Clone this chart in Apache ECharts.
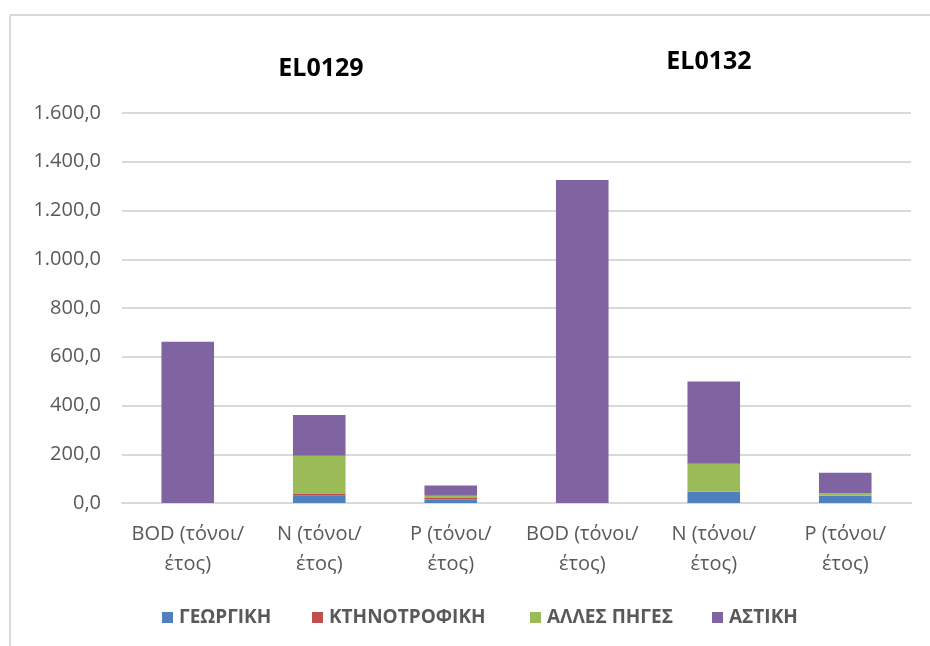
<!DOCTYPE html>
<html>
<head>
<meta charset="utf-8">
<script src="https://cdn.jsdelivr.net/npm/echarts@6/dist/echarts.min.js"></script>
<style>
html,body{margin:0;padding:0;background:#fff;}
#c{width:930px;height:646px;}
</style>
</head>
<body>
<div id="c"></div>
<script>
const categories = ["BOD (τόνοι/\nέτος)", "N (τόνοι/\nέτος)", "P (τόνοι/\nέτος)", "BOD (τόνοι/\nέτος)", "N (τόνοι/\nέτος)", "P (τόνοι/\nέτος)"];
const seriesNames = ["ΓΕΩΡΓΙΚΗ", "ΚΤΗΝΟΤΡΟΦΙΚΗ", "ΑΛΛΕΣ ΠΗΓΕΣ", "ΑΣΤΙΚΗ"];
const georgiki = [0, 30, 14, 0, 45, 30];
const ktinotrofiki = [0, 7, 7, 0, 1, 1];
const alles = [0, 157, 9, 0, 115, 9];
const astiki = [662, 167, 42, 1325, 337, 84];
const groupTitles = ["EL0129", "EL0132"];
const colors = ["#4f81bd", "#c0504d", "#9bbb59", "#8064a2"];

const FONT = "'Open Sans', sans-serif";
const legendLefts = [157, 307, 525, 707];

function fmt(v) {
  const s = Math.round(v).toString().replace(/\B(?=(\d{3})+(?!\d))/g, ".");
  return s + ",0";
}

const chart = echarts.init(document.getElementById('c'), null, {renderer: 'canvas'});
const dataSets = [georgiki, ktinotrofiki, alles, astiki];

chart.setOption({
  animation: false,
  backgroundColor: '#fff',
  color: colors,
  title: [
    {text: groupTitles[0], left: 316, top: 51, textAlign: 'center',
     textStyle: {fontFamily: FONT, fontSize: 25, fontWeight: 'bold', color: '#000'}},
    {text: groupTitles[1], left: 704, top: 44, textAlign: 'center',
     textStyle: {fontFamily: FONT, fontSize: 25, fontWeight: 'bold', color: '#000'}}
  ],
  grid: {left: 122, right: 19, top: 113, bottom: 143, containLabel: false},
  legend: seriesNames.map((n, i) => ({
    left: legendLefts[i], top: 603,
    itemWidth: 11, itemHeight: 11,
    icon: 'rect',
    data: [n],
    textStyle: {fontFamily: FONT, fontSize: 19, fontWeight: 'bold', color: '#595959', padding: [0, 0, 0, 1]}
  })),
  xAxis: {
    type: 'category',
    data: categories,
    axisLine: {lineStyle: {color: '#d9d9d9', width: 2}},
    axisTick: {show: false},
    axisLabel: {fontFamily: FONT, fontSize: 20, color: '#595959', margin: 16, lineHeight: 30, interval: 0}
  },
  yAxis: {
    type: 'value',
    min: 0, max: 1600, interval: 200,
    axisLine: {show: false},
    axisTick: {show: false},
    splitLine: {lineStyle: {color: '#d9d9d9', width: 2}},
    axisLabel: {fontFamily: FONT, fontSize: 20, color: '#595959', margin: 21, formatter: fmt}
  },
  series: seriesNames.map((n, i) => ({
    name: n,
    type: 'bar',
    stack: 'total',
    barWidth: '40%',
    data: dataSets[i],
    itemStyle: {color: colors[i]}
  })),
  graphic: [
    {type: 'line', shape: {x1: 10, y1: 15, x2: 930, y2: 15}, style: {stroke: '#d9d9d9', lineWidth: 2}},
    {type: 'line', shape: {x1: 10, y1: 15, x2: 10, y2: 646}, style: {stroke: '#d9d9d9', lineWidth: 2}}
  ]
});
</script>
</body>
</html>
